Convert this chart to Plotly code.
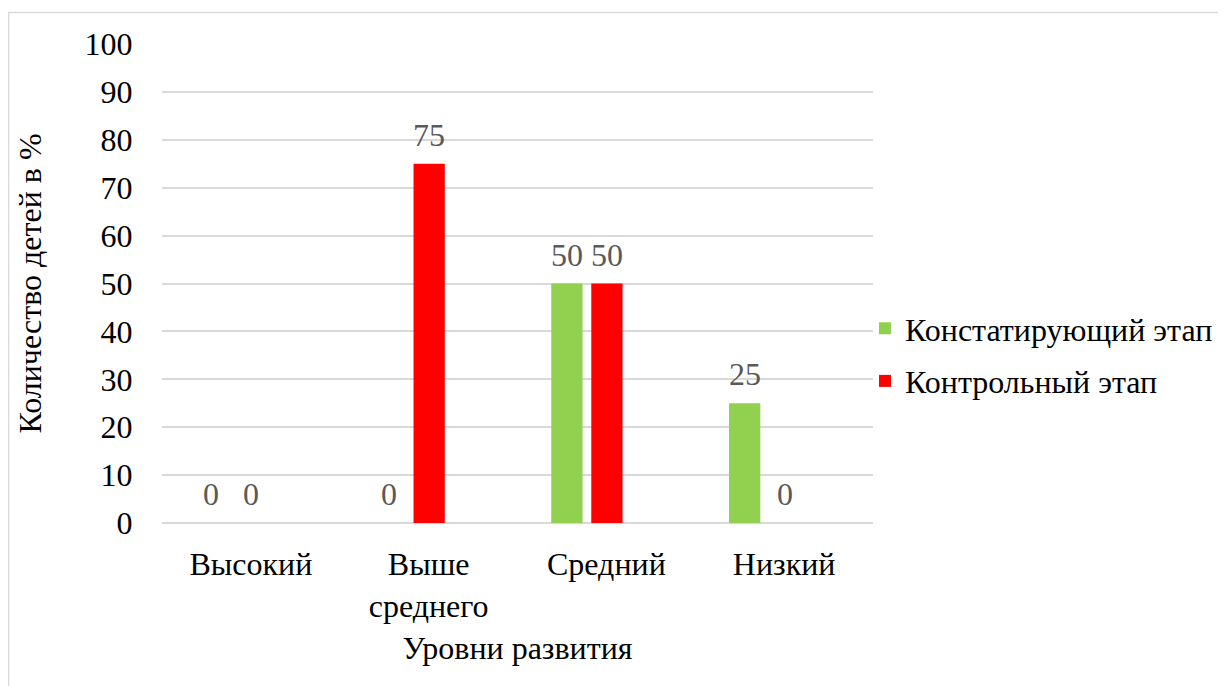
import plotly.graph_objects as go

categories = ["Высокий", "Выше<br>среднего", "Средний", "Низкий"]
series_names = ["Констатирующий этап", "Контрольный этап"]
konst_values = [0, 0, 50, 25]
kontr_values = [0, 75, 50, 0]
y_ticks = list(range(0, 101, 10))

FONT = "Liberation Serif"
FS = 32
GRID = "#d9d9d9"
LABEL = "#595959"

# page body has an 8px margin, so figure coords = screen coords - 8
L, R, T, B = 154, 865, 36, 515
W, H = 1226, 686
CAT_PX = (R - L) / len(categories)

BW = 0.176
OFFS = [-0.222, 0.003]
colors = ["#92d050", "#ff0000"]
values = [konst_values, kontr_values]

fig = go.Figure()
for name, vals, col, off in zip(series_names, values, colors, OFFS):
    fig.add_trace(go.Bar(
        x=categories, y=vals, name=name, legendgroup=name,
        marker=dict(color=col, line=dict(width=0)),
        width=BW, offset=off - BW / 2,
        hoverinfo="x+y",
    ))

annotations = []
for vals, off in zip(values, OFFS):
    for c, v in zip(categories, vals):
        annotations.append(dict(
            x=c, y=v, xref="x", yref="y", text=str(v), showarrow=False,
            xshift=off * CAT_PX, yshift=29, yanchor="middle", xanchor="center",
            font=dict(family=FONT, size=FS, color=LABEL),
        ))


def px_x(p):
    return (p - L) / (R - L)


def px_y(p):
    return (B - p) / (B - T)


fig.update_layout(
    width=W, height=H,
    margin=dict(l=L, r=W - R, t=T, b=H - B, pad=0),
    paper_bgcolor="white", plot_bgcolor="white",
    barmode="overlay",
    font=dict(family=FONT, size=FS, color="black"),
    showlegend=True,
    legend=dict(
        x=px_x(857), xanchor="left", y=px_y(347), yanchor="middle",
        font=dict(family=FONT, size=FS, color="black"),
        bgcolor="rgba(0,0,0,0)", traceorder="grouped",
        tracegroupgap=8,
    ),
    xaxis=dict(
        showgrid=False, showline=False, zeroline=False,
        tickfont=dict(family=FONT, size=FS, color="black"),
        ticks="outside", ticklen=13, tickcolor="rgba(0,0,0,0)",
        title=dict(text="Уровни развития", standoff=13,
                   font=dict(family=FONT, size=FS, color="black")),
    ),
    yaxis=dict(
        range=[0, 100], tickvals=y_ticks,
        showgrid=True, gridcolor=GRID, gridwidth=1.5,
        zeroline=True, zerolinecolor=GRID, zerolinewidth=1.5,
        showline=False,
        tickfont=dict(family=FONT, size=FS, color="black"),
        ticks="outside", ticklen=22, tickcolor="rgba(0,0,0,0)",
        title=dict(text="Количество детей в %", standoff=33,
                   font=dict(family=FONT, size=FS, color="black")),
    ),
    annotations=annotations,
    shapes=[dict(
        type="rect", xref="paper", yref="paper",
        x0=px_x(0.5), x1=px_x(1240), y0=px_y(700), y1=px_y(4.5),
        line=dict(color=GRID, width=1.5), fillcolor="rgba(0,0,0,0)", layer="below",
    )],
)

fig.write_html("out.html")
